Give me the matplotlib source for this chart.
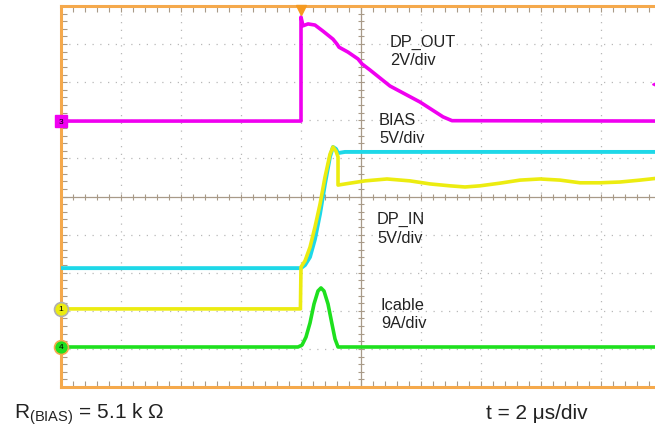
import numpy as np
import matplotlib
matplotlib.use("Agg")
import matplotlib.pyplot as plt

plt.rcParams['font.family'] = ['Liberation Sans', 'DejaVu Sans']
plt.rcParams['mathtext.fontset'] = 'custom'
plt.rcParams['mathtext.rm'] = 'Liberation Sans'

# scope screen units: time and amplitude in divisions (10 x 10 grid)
dpout_t = [0, 4.0, 4.0, 4.033, 4.117, 4.233, 4.367, 4.533, 4.6, 4.633, 4.783, 4.95, 5.017,
           5.15, 5.483, 5.983, 6.367, 6.517, 10]
dpout_v = [6.98, 6.98, 9.71, 9.48, 9.53, 9.5, 9.34, 9.13, 9.0, 8.92, 8.79, 8.61, 8.48,
           8.32, 7.9, 7.48, 7.09, 6.99, 6.98]

bias_t = [0, 4.0, 4.067, 4.15, 4.233, 4.317, 4.4, 4.483, 4.533, 4.583, 4.617, 4.733, 10]
bias_v = [3.12, 3.12, 3.2, 3.41, 3.88, 4.54, 5.33, 6.04, 6.3, 6.25, 6.14, 6.17, 6.17]

dpin_t = [0, 3.99, 4.0, 4.067, 4.15, 4.233, 4.317, 4.4, 4.483, 4.533, 4.583, 4.617, 4.617,
          4.817, 5.067, 5.433, 5.817, 6.15, 6.483, 6.733, 6.983, 7.317, 7.65, 7.983,
          8.317, 8.65, 8.983, 9.317, 9.65, 10]
dpin_v = [2.05, 2.05, 3.15, 3.31, 3.67, 4.2, 4.8, 5.51, 6.11, 6.3, 6.19, 6.04, 5.3,
          5.35, 5.41, 5.46, 5.41, 5.33, 5.28, 5.25, 5.28, 5.35, 5.43, 5.46,
          5.43, 5.36, 5.36, 5.38, 5.43, 5.49]

icable_t = [0, 3.95, 4.017, 4.083, 4.15, 4.217, 4.283, 4.333, 4.383, 4.45, 4.517, 4.567, 4.617, 10]
icable_v = [1.05, 1.05, 1.1, 1.31, 1.68, 2.18, 2.52, 2.6, 2.52, 2.18, 1.65, 1.26, 1.05, 1.05]

W, H = 655, 427
fig = plt.figure(figsize=(W / 100, H / 100), dpi=100)
fig.patch.set_facecolor('white')
# screen is 600 px wide, right border falls just outside the picture
ax = fig.add_axes([61 / W, (H - 388) / H, 600 / W, 381 / H])
ax.set_xlim(0, 10)
ax.set_ylim(0, 10)

orange = '#f5a94c'
tickc = '#a89a88'
for s in ['left', 'top', 'bottom', 'right']:
    ax.spines[s].set_color(orange)
    ax.spines[s].set_linewidth(2.2)

ax.set_xticks(np.arange(0, 10.01, 1))
ax.set_yticks(np.arange(0, 10.01, 1))
ax.set_xticks(np.arange(0, 10.01, 0.2), minor=True)
ax.set_yticks(np.arange(0, 10.01, 0.2), minor=True)
ax.tick_params(which='both', direction='in', length=4, width=0.8, color=tickc,
               top=True, bottom=True, left=True, right=False,
               labelbottom=False, labelleft=False)

# dotted graticule
for k in range(1, 10):
    if k == 5:
        continue
    ax.axvline(k, color='#b8b8b8', lw=0.9, ls=(0, (1, 5.2)), zorder=1)
    ax.axhline(k, color='#b8b8b8', lw=0.9, ls=(0, (1, 5.2)), zorder=1)

# center lines with minor ticks
ax.axvline(5, color=tickc, lw=0.9, zorder=1)
ax.axhline(5, color=tickc, lw=0.9, zorder=1)
mt = np.arange(0, 10.01, 0.2)
ax.plot(mt, np.full_like(mt, 5), ls='none', marker='|', ms=5, mew=0.8, color=tickc, zorder=1)
ax.plot(np.full_like(mt, 5), mt, ls='none', marker='_', ms=5, mew=0.8, color=tickc, zorder=1)

# traces
ax.plot(dpout_t, dpout_v, color='#f000f0', lw=2.6, zorder=3, solid_joinstyle='round')
ax.plot(bias_t, bias_v, color='#1ed8e8', lw=2.8, zorder=4, solid_joinstyle='round')
ax.plot(dpin_t, dpin_v, color='#ecec10', lw=2.6, zorder=5, solid_joinstyle='round')
ax.plot(icable_t, icable_v, color='#1ee01e', lw=2.6, zorder=6, solid_joinstyle='round')

# channel ground markers
ax.plot([0], [dpout_v[0]], marker='s', ms=9, color='#f000f0', clip_on=False, zorder=7)
ax.text(0, dpout_v[0], '3', fontsize=6, ha='center', va='center', zorder=8, clip_on=False)
ax.plot([0], [dpin_v[0]], marker='o', ms=10, mfc='#ecec10', mec='#b0b0b0', mew=1.2, clip_on=False, zorder=7)
ax.text(0, dpin_v[0], '1', fontsize=6, ha='center', va='center', zorder=8, clip_on=False)
ax.plot([0], [icable_v[0]], marker='o', ms=10, mfc='#1ee01e', mec=orange, mew=1.2, clip_on=False, zorder=7)
ax.text(0, icable_v[0], '4', fontsize=6, ha='center', va='center', zorder=8, clip_on=False)

# trigger position and trigger level markers
ax.plot([4.0], [9.9], marker='v', ms=7, color='#f59a20', clip_on=False, zorder=8)
ax.plot([9.95], [7.95], marker='<', ms=9, color='#f000f0', clip_on=False, zorder=8)

def label(x, y, s, size=11.8):
    fig.text(x / W, 1 - y / H, s, fontsize=size, va='baseline', ha='left', color='#222222')

label(390, 47, 'DP_OUT')
label(390, 65, '2V/div')
label(379, 125, 'BIAS')
label(379, 143, '5V/div')
label(377, 224, 'DP_IN')
label(377, 243, '5V/div')
label(381, 310, 'Icable')
label(381, 328, '9A/div')

label(14, 418, r'R$_{\mathrm{(BIAS)}}$ = 5.1 k Ω', size=15)
label(486, 419, 't = 2 μs/div', size=15)

fig.savefig('out.png', dpi=100)
